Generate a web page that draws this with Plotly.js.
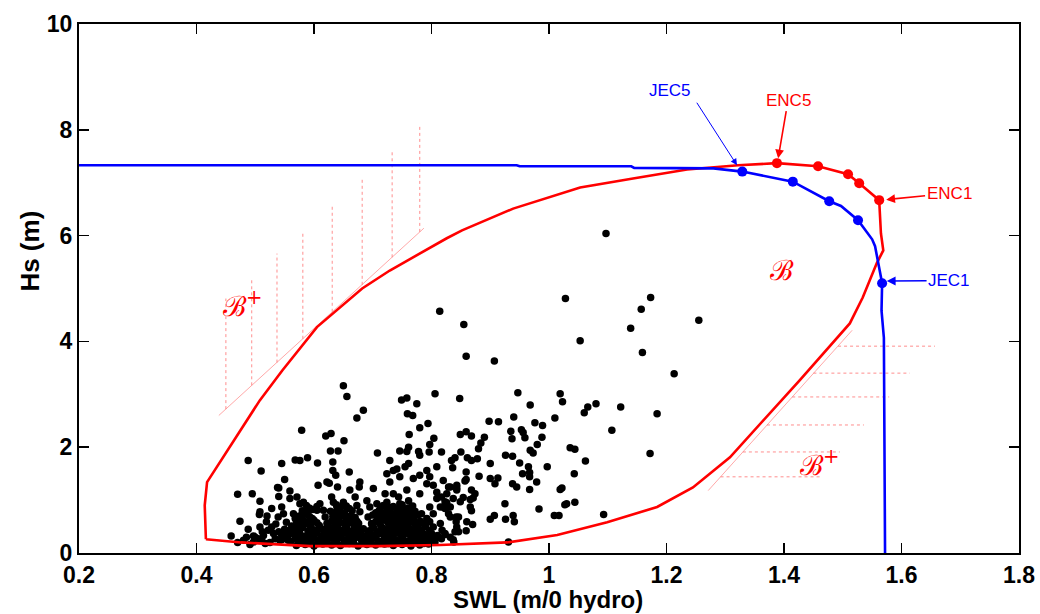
<!DOCTYPE html>
<html><head><meta charset="utf-8">
<script src="https://cdn.plot.ly/plotly-3.0.1.min.js"></script>
<style>html,body{margin:0;padding:0;background:#fff}#chart{width:1040px;height:614px}</style>
</head><body><div id="chart"></div>
<script>
// ---------- data ----------
const xTickVals = [0.2,0.4,0.6,0.8,1.0,1.2,1.4,1.6,1.8];
const xTickText = ['0.2','0.4','0.6','0.8','1','1.2','1.4','1.6','1.8'];
const yTickVals = [0,2,4,6,8,10];

// ENC contour (red)
const encSWL = [0.416,0.414,0.418,0.508,0.546,0.605,0.682,0.729,0.826,0.852,0.939,1.053,1.143,1.235,1.322,1.388,1.458,1.509,1.528,1.562,1.565,1.569,1.558,1.534,1.512,1.427,1.308,1.245,1.184,1.099,1.014,0.929,0.814,0.712,0.593,0.476,0.416];
const encHs  = [0.26,0.90,1.34,2.89,3.45,4.27,5.00,5.34,5.95,6.10,6.51,6.91,7.08,7.25,7.33,7.37,7.31,7.16,6.99,6.67,6.04,5.72,5.48,4.83,4.34,3.27,1.81,1.24,0.87,0.58,0.34,0.20,0.15,0.13,0.13,0.20,0.26];
const encPtSWL = [1.388,1.458,1.509,1.528,1.562];
const encPtHs  = [7.37,7.31,7.16,6.99,6.67];

// JEC line (blue)
const jecSWL = [0.2,0.945,0.95,1.14,1.145,1.28,1.329,1.415,1.477,1.497,1.526,1.550,1.555,1.567,1.566,1.570,1.572];
const jecHs  = [7.33,7.33,7.31,7.31,7.28,7.27,7.21,7.02,6.65,6.56,6.29,5.93,5.80,5.10,4.58,4.07,0];
const jecPtSWL = [1.329,1.415,1.477,1.526,1.567];
const jecPtHs  = [7.21,7.02,6.65,6.29,5.10];

// hatching of B+ regions
const hatchUpSWL = [0.450,0.494,0.537,0.581,0.631,0.682,0.733,0.780];
const hatchUpTop = [4.81,5.21,5.66,6.08,6.57,7.10,7.63,8.10];
const hatchUpBot = [2.72,3.17,3.60,4.05,4.56,5.07,5.59,6.07];
const diagUpSWL = [0.438,0.787];
const diagUpHs  = [2.60,6.14];
const hatchLoHs    = [3.91,3.40,2.95,2.42,1.91,1.44];
const hatchLoLeft  = [1.492,1.450,1.414,1.371,1.330,1.292];
const hatchLoRight = [1.657,1.614,1.579,1.536,1.495,1.465];
const diagLoSWL = [1.271,1.516];
const diagLoHs  = [1.18,4.21];

// observations: sparse / upper points
const obsUpper = [[1.097,6.04],[1.028,4.81],[1.173,4.83],[1.157,4.61],[1.139,4.25],[1.255,4.40],[0.855,4.32],[0.814,4.57],[1.053,4.01],[1.159,3.79],[0.859,3.72],[0.907,3.63],[1.213,3.39],[0.848,2.92],[0.947,3.03],[1.019,3.01],[1.023,2.86],[0.968,2.80],[1.080,2.82],[1.066,2.76],[1.060,2.65],[1.122,2.76],[1.184,2.63],[1.107,2.32],[1.010,2.55],[0.898,2.49],[0.914,2.48],[0.940,2.57],[0.976,2.46],[0.989,2.41],[0.935,2.30],[0.953,2.33],[0.956,2.28],[0.937,2.16],[0.959,2.18],[0.988,2.19],[0.980,2.05],[0.968,1.94],[0.973,1.89],[0.849,2.24],[0.859,2.29],[0.868,2.21],[0.890,2.19],[0.884,2.08],[0.880,1.97],[0.878,1.78],[0.850,1.91],[0.840,1.80],[0.861,1.80],[0.868,1.75],[0.817,1.91],[0.836,1.61],[0.859,1.53],[0.859,1.39],[0.857,1.36],[0.881,1.45],[0.900,1.69],[0.926,1.85],[0.938,1.83],[0.950,1.70],[0.965,1.63],[0.967,1.52],[0.967,1.44],[0.955,1.50],[0.900,1.41],[0.913,1.42],[0.908,1.31],[0.938,1.31],[0.945,1.25],[0.979,1.34],[0.997,1.63],[1.036,1.99],[1.044,1.96],[1.062,1.74],[1.043,1.50],[0.967,1.20],[1.019,1.20],[1.022,1.23],[1.027,0.91],[1.030,0.93],[1.044,0.96],[0.983,0.83],[0.925,0.93],[0.907,0.71],[0.900,0.64],[0.926,0.64],[0.939,0.71],[0.941,0.59],[1.009,0.71],[1.017,0.71],[1.093,0.73],[0.931,0.21],[1.172,1.88],[0.820,1.37],[0.832,1.25],[0.843,1.23],[0.817,1.06],[0.826,0.95],[0.837,1.03],[0.868,1.19],[0.874,1.12],[0.871,1.04],[0.854,1.05],[0.866,1.01],[0.820,0.87],[0.829,0.74],[0.866,0.87],[0.868,0.80],[0.842,0.68],[0.842,0.59],[0.840,0.40],[0.860,0.59],[0.870,0.54],[0.859,0.42],[0.823,0.35],[0.817,0.27],[0.837,0.25]];

// observations: left / middle points
const obsMiddle = [[0.650,3.16],[0.656,2.96],[0.684,2.70],[0.673,2.55],[0.579,2.32],[0.620,2.21],[0.629,2.26],[0.651,2.12],[0.488,1.75],[0.510,1.55],[0.545,1.69],[0.568,1.76],[0.576,1.75],[0.589,1.80],[0.606,1.70],[0.628,1.93],[0.641,1.93],[0.632,1.72],[0.632,1.56],[0.637,1.47],[0.660,1.53],[0.550,1.39],[0.538,1.24],[0.470,1.11],[0.495,1.12],[0.508,0.98],[0.474,0.60],[0.459,0.32],[0.508,0.78],[0.507,0.73],[0.540,1.07],[0.559,1.17],[0.607,1.28],[0.622,1.34],[0.626,1.32],[0.640,1.25],[0.678,1.34],[0.677,1.25],[0.661,1.19],[0.701,1.22],[0.708,1.89],[0.729,1.75],[0.746,1.93],[0.761,2.00],[0.758,1.92],[0.778,1.92],[0.780,1.85],[0.762,2.24],[0.780,2.37],[0.794,2.45],[0.804,2.17],[0.797,2.05],[0.796,1.91],[0.749,2.89],[0.758,2.93],[0.775,2.82],[0.759,2.63],[0.768,2.60],[0.806,3.01],[0.834,1.75],[0.809,1.63],[0.724,1.50],[0.735,1.56],[0.741,1.59],[0.755,1.63],[0.761,1.69],[0.769,1.41],[0.780,1.47],[0.792,1.56],[0.797,1.44],[0.746,1.44],[0.729,1.34],[0.792,1.31],[0.803,1.28],[0.829,1.25],[0.843,1.28],[0.721,1.12],[0.735,1.12],[0.758,1.19],[0.780,1.12],[0.809,1.15],[0.826,1.12],[0.843,1.19],[0.809,1.03],[0.823,0.97],[0.832,0.87],[0.823,0.84],[0.815,0.87],[0.849,0.97],[0.846,0.68],[0.832,0.68],[0.843,0.49],[0.846,0.40],[0.823,0.37],[0.803,0.49],[0.792,0.65],[0.797,0.59],[0.769,0.68],[0.783,0.74],[0.540,1.23],[0.500,0.30],[0.491,0.16]];

// observations: lower cluster
const obsLower = [[0.485,0.30],[0.497,0.32],[0.480,0.24],[0.519,0.59],[0.528,0.49],[0.522,0.43],[0.531,0.37],[0.508,0.49],[0.514,0.33],[0.539,0.68],[0.545,0.87],[0.548,0.74],[0.528,0.84],[0.559,1.03],[0.571,1.06],[0.576,0.93],[0.582,0.96],[0.588,0.81],[0.565,0.74],[0.568,0.65],[0.576,0.59],[0.571,0.49],[0.559,0.37],[0.568,0.27],[0.576,0.37],[0.556,0.24],[0.542,0.24],[0.545,0.33],[0.534,0.27],[0.511,0.24],[0.517,0.18],[0.497,0.21],[0.588,0.30],[0.596,0.18],[0.602,0.43],[0.593,0.68],[0.599,0.59],[0.605,0.81],[0.610,0.93],[0.616,0.81],[0.619,0.68],[0.622,0.56],[0.616,0.43],[0.624,0.30],[0.616,0.21],[0.630,1.06],[0.633,0.96],[0.639,0.87],[0.644,0.74],[0.641,0.62],[0.636,0.49],[0.644,0.37],[0.639,0.24],[0.650,0.96],[0.656,0.84],[0.661,0.68],[0.658,0.56],[0.656,0.43],[0.664,0.30],[0.653,0.19],[0.670,1.06],[0.673,0.90],[0.678,0.78],[0.676,0.56],[0.684,0.46],[0.676,0.33],[0.684,0.21],[0.690,0.99],[0.695,0.87],[0.692,0.68],[0.698,0.56],[0.692,0.40],[0.698,0.27],[0.707,0.93],[0.712,0.81],[0.710,0.65],[0.715,0.49],[0.707,0.37],[0.715,0.21],[0.724,0.96],[0.729,0.81],[0.727,0.65],[0.735,0.56],[0.729,0.40],[0.735,0.27],[0.724,0.18],[0.744,1.06],[0.746,0.93],[0.749,0.78],[0.744,0.65],[0.752,0.52],[0.746,0.37],[0.749,0.21],[0.761,0.99],[0.766,0.87],[0.761,0.74],[0.769,0.59],[0.763,0.46],[0.769,0.33],[0.761,0.21],[0.786,0.56],[0.780,0.40],[0.786,0.27],[0.778,0.18],[0.797,0.87],[0.803,0.74],[0.800,0.30],[0.806,0.21],[0.815,0.56],[0.818,0.43],[0.812,0.30],[0.832,0.30],[0.838,0.21],
[0.470,0.20],[0.505,0.27],[0.525,0.20],[0.535,0.55],[0.550,0.45],[0.540,0.40],[0.553,0.58],[0.520,0.70],[0.512,0.40],[0.488,0.45]];

// observations: densest core (two interleaved layers)
const obsCore = [[0.570,0.14],[0.585,0.16],[0.600,0.13],[0.615,0.17],[0.630,0.15],[0.645,0.14],[0.660,0.18],[0.675,0.13],[0.690,0.16],[0.705,0.15],[0.720,0.17],[0.735,0.14],[0.750,0.16],[0.765,0.13],[0.780,0.15],[0.795,0.17],
[0.545,0.25],[0.560,0.22],[0.578,0.26],[0.592,0.23],[0.607,0.24],[0.620,0.27],[0.638,0.22],[0.652,0.25],[0.667,0.23],[0.680,0.26],[0.697,0.24],[0.710,0.22],[0.726,0.27],[0.740,0.24],[0.755,0.23],[0.770,0.26],[0.786,0.25],[0.800,0.22],
[0.550,0.33],[0.567,0.35],[0.583,0.31],[0.598,0.34],[0.612,0.32],[0.628,0.36],[0.643,0.31],[0.659,0.34],[0.672,0.36],[0.688,0.32],[0.703,0.33],[0.719,0.35],[0.733,0.31],[0.748,0.34],[0.762,0.36],[0.778,0.32],[0.792,0.34],[0.810,0.33],
[0.557,0.42],[0.573,0.44],[0.590,0.41],[0.604,0.43],[0.619,0.45],[0.634,0.40],[0.648,0.43],[0.663,0.41],[0.680,0.44],[0.694,0.42],[0.709,0.40],[0.723,0.44],[0.738,0.42],[0.753,0.45],[0.768,0.41],[0.783,0.43],[0.797,0.42],
[0.562,0.51],[0.578,0.53],[0.594,0.50],[0.609,0.52],[0.625,0.49],[0.640,0.53],[0.655,0.51],[0.669,0.50],[0.699,0.53],[0.714,0.50],[0.729,0.52],[0.744,0.49],[0.759,0.53],[0.774,0.51],[0.790,0.50],
[0.570,0.61],[0.586,0.59],[0.600,0.62],[0.630,0.60],[0.645,0.58],[0.660,0.61],[0.673,0.60],[0.705,0.59],[0.720,0.62],[0.735,0.60],[0.750,0.58],[0.766,0.61],[0.781,0.60],
[0.575,0.70],[0.590,0.72],[0.632,0.69],[0.648,0.71],[0.662,0.70],[0.700,0.72],[0.716,0.69],[0.731,0.71],[0.747,0.70],[0.762,0.68],[0.777,0.72],
[0.580,0.80],[0.598,0.82],[0.628,0.79],[0.643,0.81],[0.665,0.80],[0.710,0.79],[0.725,0.82],[0.742,0.80],[0.757,0.81],[0.772,0.79],
[0.587,0.90],[0.605,0.88],[0.638,0.91],[0.655,0.89],[0.718,0.90],[0.735,0.88],[0.750,0.91],[0.768,0.89]];
const obsCore2 = [[0.577,0.19],[0.592,0.20],[0.607,0.18],[0.622,0.21],[0.637,0.19],[0.652,0.20],[0.667,0.18],[0.682,0.21],[0.697,0.19],[0.712,0.20],[0.727,0.18],[0.742,0.21],[0.757,0.19],[0.772,0.20],[0.787,0.18],
[0.555,0.29],[0.570,0.30],[0.585,0.28],[0.600,0.29],[0.615,0.30],[0.630,0.28],[0.645,0.29],[0.660,0.27],[0.675,0.30],[0.690,0.28],[0.705,0.29],[0.720,0.30],[0.735,0.28],[0.750,0.29],[0.765,0.30],[0.780,0.28],[0.795,0.29],
[0.560,0.38],[0.575,0.39],[0.590,0.37],[0.605,0.38],[0.620,0.39],[0.635,0.36],[0.650,0.38],[0.665,0.39],[0.680,0.37],[0.695,0.38],[0.710,0.36],[0.725,0.39],[0.740,0.38],[0.755,0.37],[0.770,0.39],[0.785,0.38],[0.800,0.37],
[0.566,0.47],[0.581,0.48],[0.596,0.46],[0.611,0.47],[0.626,0.48],[0.641,0.46],[0.656,0.47],[0.671,0.46],[0.702,0.47],[0.717,0.46],[0.732,0.48],[0.747,0.46],[0.762,0.47],[0.777,0.48],
[0.575,0.56],[0.590,0.55],[0.605,0.57],[0.637,0.56],[0.652,0.55],[0.667,0.57],[0.712,0.56],[0.727,0.55],[0.742,0.57],[0.757,0.56],[0.772,0.55],
[0.580,0.66],[0.597,0.65],[0.640,0.66],[0.655,0.65],[0.670,0.67],[0.708,0.66],[0.723,0.65],[0.738,0.66],[0.753,0.67],[0.770,0.65],
[0.585,0.75],[0.635,0.76],[0.652,0.75],[0.705,0.76],[0.720,0.75],[0.736,0.74],[0.752,0.76],[0.767,0.75],
[0.592,0.85],[0.645,0.86],[0.660,0.84],[0.713,0.85],[0.730,0.86],[0.745,0.84],[0.760,0.85]];

// ---------- build ----------
const allObs = obsUpper.concat(obsMiddle, obsLower, obsCore, obsCore2);
const hatchColor = 'rgba(255,50,50,0.55)';
const diagColor = 'rgba(255,110,110,0.6)';

function segs(xa, ya, xb, yb) {
  const X = [], Y = [];
  for (let i = 0; i < xa.length; i++) { X.push(xa[i], xb[i], null); Y.push(ya[i], yb[i], null); }
  return {X, Y};
}
const up = segs(hatchUpSWL, hatchUpBot, hatchUpSWL, hatchUpTop);
const lo = segs(hatchLoLeft, hatchLoHs, hatchLoRight, hatchLoHs);

const traces = [
  {x: up.X, y: up.Y, mode: 'lines', line: {color: hatchColor, width: 1, dash: 'dot'}, hoverinfo: 'skip'},
  {x: lo.X, y: lo.Y, mode: 'lines', line: {color: hatchColor, width: 1, dash: 'dot'}, hoverinfo: 'skip'},
  {x: diagUpSWL, y: diagUpHs, mode: 'lines', line: {color: diagColor, width: 1}},
  {x: diagLoSWL, y: diagLoHs, mode: 'lines', line: {color: diagColor, width: 1}},
  {x: allObs.map(p => p[0]), y: allObs.map(p => p[1]), mode: 'markers', marker: {color: '#000', size: 7.5}},
  {x: encSWL, y: encHs, mode: 'lines', line: {color: '#ff0000', width: 2.6}},
  {x: jecSWL, y: jecHs, mode: 'lines', line: {color: '#0000ff', width: 2.6}},
  {x: encPtSWL, y: encPtHs, mode: 'markers', marker: {color: '#ff0000', size: 10}},
  {x: jecPtSWL, y: jecPtHs, mode: 'markers', marker: {color: '#0000ff', size: 10}}
];

const tickFont = {family: 'Liberation Sans, Arial, sans-serif', size: 23, color: '#000', weight: 'bold'};
const axisBase = {
  showgrid: false, zeroline: false, showline: true, linecolor: '#000', linewidth: 2,
  mirror: 'ticks', ticks: 'inside', ticklen: 10, tickwidth: 1.5, tickcolor: '#000',
  tickfont: tickFont, fixedrange: true
};
const annFont = {family: 'Liberation Sans, Arial, sans-serif', size: 17};
const calFont = {family: 'DejaVu Serif, serif', size: 28, color: '#ff0000'};

const layout = {
  width: 1040, height: 614,
  margin: {l: 79, r: 21, t: 24, b: 61},
  paper_bgcolor: '#fff', plot_bgcolor: '#fff',
  showlegend: false,
  xaxis: Object.assign({}, axisBase, {range: [0.2, 1.8], tickvals: xTickVals, ticktext: xTickText, ticklabelstandoff: 0}),
  yaxis: Object.assign({}, axisBase, {range: [0, 10], tickvals: yTickVals}),
  annotations: [
    {xref: 'paper', yref: 'paper', x: 0.499, y: -0.0875, text: 'SWL (m/0 hydro)', showarrow: false, xanchor: 'center', yanchor: 'middle',
     font: {family: 'Liberation Sans, Arial, sans-serif', size: 24, color: '#000', weight: 'bold'}},
    {xref: 'paper', yref: 'paper', x: -0.052, y: 0.57, text: 'Hs (m)', textangle: -90, showarrow: false, xanchor: 'center', yanchor: 'middle',
     font: {family: 'Liberation Sans, Arial, sans-serif', size: 26, color: '#000', weight: 'bold'}},
    // JEC5: label and arrow drawn separately (arrow starts right of the label)
    {x: 1.206, y: 8.74, text: 'JEC5', showarrow: false, font: Object.assign({}, annFont, {color: '#0000ff'})},
    {x: 1.320, y: 7.33, ax: 1.250, ay: 8.54, axref: 'x', ayref: 'y', text: '', showarrow: true, arrowhead: 2, arrowsize: 1.3, arrowwidth: 1, arrowcolor: '#0000ff'},
    // labelled arrows: text at tail, head on the marker
    {x: 1.390, y: 7.46, ax: 1.407, ay: 8.56, axref: 'x', ayref: 'y', text: 'ENC5', showarrow: true, arrowhead: 2, arrowsize: 1.1, arrowwidth: 1.6, arrowcolor: '#ff0000', font: Object.assign({}, annFont, {color: '#ff0000'})},
    {x: 1.574, y: 6.68, ax: 1.681, ay: 6.80, axref: 'x', ayref: 'y', text: 'ENC1', showarrow: true, arrowhead: 2, arrowsize: 1.1, arrowwidth: 1.6, arrowcolor: '#ff0000', font: Object.assign({}, annFont, {color: '#ff0000'})},
    {x: 1.575, y: 5.14, ax: 1.681, ay: 5.15, axref: 'x', ayref: 'y', text: 'JEC1', showarrow: true, arrowhead: 2, arrowsize: 1.1, arrowwidth: 1.6, arrowcolor: '#0000ff', font: Object.assign({}, annFont, {color: '#0000ff'})},
    {x: 1.397, y: 5.34, text: 'ℬ', showarrow: false, font: calFont},
    {x: 0.479, y: 4.70, text: 'ℬ<sup>+</sup>', showarrow: false, font: calFont},
    {x: 1.460, y: 1.70, text: 'ℬ<sup>+</sup>', showarrow: false, font: calFont}
  ]
};

Plotly.newPlot('chart', traces, layout, {staticPlot: true, displayModeBar: false});
</script>
</body></html>
